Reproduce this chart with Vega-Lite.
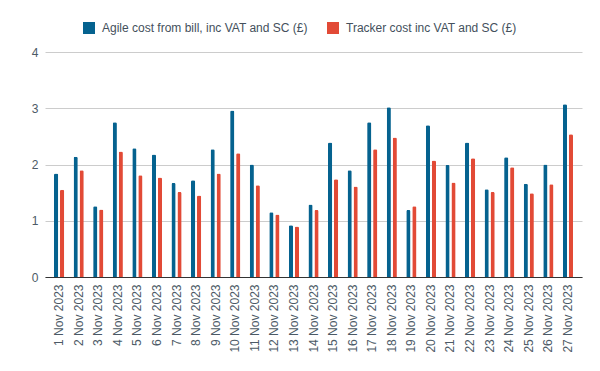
{
  "$schema": "https://vega.github.io/schema/vega-lite/v6.json",
  "width": 537,
  "height": 225,
  "autosize": {"type": "none"},
  "padding": {"left": 45, "top": 52, "right": 18, "bottom": 94},
  "background": "#ffffff",
  "config": {
    "view": {"stroke": null},
    "font": "Liberation Sans",
    "axis": {"labelFont": "Liberation Sans", "labelColor": "#4c5a66", "labelFontSize": 12},
    "legend": {"labelFont": "Liberation Sans", "labelColor": "#44505c", "labelFontSize": 12}
  },
  "data": {
    "values": [
      {"date": "1 Nov 2023", "series": "Agile cost from bill, inc VAT and SC (£)", "value": 1.84},
      {"date": "1 Nov 2023", "series": "Tracker cost inc VAT and SC (£)", "value": 1.55},
      {"date": "2 Nov 2023", "series": "Agile cost from bill, inc VAT and SC (£)", "value": 2.14},
      {"date": "2 Nov 2023", "series": "Tracker cost inc VAT and SC (£)", "value": 1.90},
      {"date": "3 Nov 2023", "series": "Agile cost from bill, inc VAT and SC (£)", "value": 1.26},
      {"date": "3 Nov 2023", "series": "Tracker cost inc VAT and SC (£)", "value": 1.20},
      {"date": "4 Nov 2023", "series": "Agile cost from bill, inc VAT and SC (£)", "value": 2.75},
      {"date": "4 Nov 2023", "series": "Tracker cost inc VAT and SC (£)", "value": 2.23},
      {"date": "5 Nov 2023", "series": "Agile cost from bill, inc VAT and SC (£)", "value": 2.29},
      {"date": "5 Nov 2023", "series": "Tracker cost inc VAT and SC (£)", "value": 1.81},
      {"date": "6 Nov 2023", "series": "Agile cost from bill, inc VAT and SC (£)", "value": 2.18},
      {"date": "6 Nov 2023", "series": "Tracker cost inc VAT and SC (£)", "value": 1.77},
      {"date": "7 Nov 2023", "series": "Agile cost from bill, inc VAT and SC (£)", "value": 1.67},
      {"date": "7 Nov 2023", "series": "Tracker cost inc VAT and SC (£)", "value": 1.51},
      {"date": "8 Nov 2023", "series": "Agile cost from bill, inc VAT and SC (£)", "value": 1.72},
      {"date": "8 Nov 2023", "series": "Tracker cost inc VAT and SC (£)", "value": 1.45},
      {"date": "9 Nov 2023", "series": "Agile cost from bill, inc VAT and SC (£)", "value": 2.27},
      {"date": "9 Nov 2023", "series": "Tracker cost inc VAT and SC (£)", "value": 1.84},
      {"date": "10 Nov 2023", "series": "Agile cost from bill, inc VAT and SC (£)", "value": 2.96},
      {"date": "10 Nov 2023", "series": "Tracker cost inc VAT and SC (£)", "value": 2.20},
      {"date": "11 Nov 2023", "series": "Agile cost from bill, inc VAT and SC (£)", "value": 2.00},
      {"date": "11 Nov 2023", "series": "Tracker cost inc VAT and SC (£)", "value": 1.63},
      {"date": "12 Nov 2023", "series": "Agile cost from bill, inc VAT and SC (£)", "value": 1.15},
      {"date": "12 Nov 2023", "series": "Tracker cost inc VAT and SC (£)", "value": 1.11},
      {"date": "13 Nov 2023", "series": "Agile cost from bill, inc VAT and SC (£)", "value": 0.92},
      {"date": "13 Nov 2023", "series": "Tracker cost inc VAT and SC (£)", "value": 0.90},
      {"date": "14 Nov 2023", "series": "Agile cost from bill, inc VAT and SC (£)", "value": 1.29},
      {"date": "14 Nov 2023", "series": "Tracker cost inc VAT and SC (£)", "value": 1.19},
      {"date": "15 Nov 2023", "series": "Agile cost from bill, inc VAT and SC (£)", "value": 2.39},
      {"date": "15 Nov 2023", "series": "Tracker cost inc VAT and SC (£)", "value": 1.74},
      {"date": "16 Nov 2023", "series": "Agile cost from bill, inc VAT and SC (£)", "value": 1.90},
      {"date": "16 Nov 2023", "series": "Tracker cost inc VAT and SC (£)", "value": 1.61},
      {"date": "17 Nov 2023", "series": "Agile cost from bill, inc VAT and SC (£)", "value": 2.75},
      {"date": "17 Nov 2023", "series": "Tracker cost inc VAT and SC (£)", "value": 2.27},
      {"date": "18 Nov 2023", "series": "Agile cost from bill, inc VAT and SC (£)", "value": 3.02},
      {"date": "18 Nov 2023", "series": "Tracker cost inc VAT and SC (£)", "value": 2.48},
      {"date": "19 Nov 2023", "series": "Agile cost from bill, inc VAT and SC (£)", "value": 1.19},
      {"date": "19 Nov 2023", "series": "Tracker cost inc VAT and SC (£)", "value": 1.26},
      {"date": "20 Nov 2023", "series": "Agile cost from bill, inc VAT and SC (£)", "value": 2.70},
      {"date": "20 Nov 2023", "series": "Tracker cost inc VAT and SC (£)", "value": 2.07},
      {"date": "21 Nov 2023", "series": "Agile cost from bill, inc VAT and SC (£)", "value": 1.99},
      {"date": "21 Nov 2023", "series": "Tracker cost inc VAT and SC (£)", "value": 1.68},
      {"date": "22 Nov 2023", "series": "Agile cost from bill, inc VAT and SC (£)", "value": 2.39},
      {"date": "22 Nov 2023", "series": "Tracker cost inc VAT and SC (£)", "value": 2.11},
      {"date": "23 Nov 2023", "series": "Agile cost from bill, inc VAT and SC (£)", "value": 1.56},
      {"date": "23 Nov 2023", "series": "Tracker cost inc VAT and SC (£)", "value": 1.51},
      {"date": "24 Nov 2023", "series": "Agile cost from bill, inc VAT and SC (£)", "value": 2.13},
      {"date": "24 Nov 2023", "series": "Tracker cost inc VAT and SC (£)", "value": 1.95},
      {"date": "25 Nov 2023", "series": "Agile cost from bill, inc VAT and SC (£)", "value": 1.66},
      {"date": "25 Nov 2023", "series": "Tracker cost inc VAT and SC (£)", "value": 1.49},
      {"date": "26 Nov 2023", "series": "Agile cost from bill, inc VAT and SC (£)", "value": 2.00},
      {"date": "26 Nov 2023", "series": "Tracker cost inc VAT and SC (£)", "value": 1.65},
      {"date": "27 Nov 2023", "series": "Agile cost from bill, inc VAT and SC (£)", "value": 3.07},
      {"date": "27 Nov 2023", "series": "Tracker cost inc VAT and SC (£)", "value": 2.54}
    ]
  },
  "mark": {"type": "bar", "cornerRadiusTopLeft": 1.5, "cornerRadiusTopRight": 1.5},
  "encoding": {
    "x": {
      "field": "date",
      "type": "nominal",
      "sort": null,
      "scale": {"paddingInner": 0.48, "paddingOuter": 0.46},
      "axis": {
        "title": null,
        "labelAngle": -90,
        "ticks": false,
        "domainColor": "#333333",
        "domainWidth": 1,
        "labelPadding": 7,
        "labelBaseline": "middle"
      }
    },
    "xOffset": {"field": "series", "type": "nominal", "scale": {"paddingInner": 0.3}},
    "y": {
      "field": "value",
      "type": "quantitative",
      "scale": {"domain": [0, 4]},
      "axis": {
        "title": null,
        "values": [0, 1, 2, 3, 4],
        "domain": false,
        "ticks": false,
        "gridColor": "#cccccc",
        "labelPadding": 7
      }
    },
    "color": {
      "field": "series",
      "type": "nominal",
      "scale": {"range": ["#05628f", "#e24a36"]},
      "legend": {
        "title": null,
        "orient": "none",
        "legendX": 38,
        "legendY": -30,
        "direction": "horizontal",
        "symbolType": "square",
        "symbolSize": 144,
        "symbolStrokeWidth": 0,
        "labelLimit": 0,
        "labelOffset": 7,
        "columnPadding": 19
      }
    }
  }
}
